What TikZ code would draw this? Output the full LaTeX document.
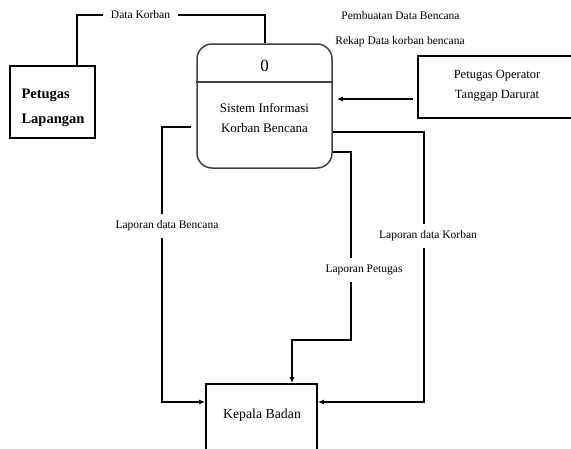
\documentclass[tikz,border=0pt]{standalone}
\usepackage{fontspec}
\setmainfont{Liberation Serif}
\newfontfamily\tms{Liberation Serif}
\usetikzlibrary{arrows.meta}
\tikzset{
  x=1pt, y=-1pt,
  every node/.style={font=\tms},
  entbox/.style={draw=black, line width=1.8pt, rectangle, inner sep=0pt},
  procbox/.style={draw=black!75, line width=1.5pt, rectangle, rounded corners=15pt, inner sep=0pt},
  flow/.style={draw=black, line width=1.5pt},
  arr/.style={flow, -{Latex[length=6pt,width=5pt]}},
  lbl/.style={fill=white, inner xsep=4pt, inner ysep=7pt, font=\tms\fontsize{11.5}{13}\selectfont},
  toplbl/.style={font=\tms\fontsize{11.5}{13}\selectfont},
}
\begin{document}
\begin{tikzpicture}
\useasboundingbox (0,0) rectangle (571,448);
\clip (0,0) rectangle (571,448);
% entities and process
\node[entbox, minimum width=85pt, minimum height=72pt] (pl) at (52.5,102) {};
\node[font=\tms\bfseries\fontsize{14.5}{25}\selectfont, align=left, anchor=west] (plt) at (18,107.5) {Petugas\\Lapangan};
\node[procbox, minimum width=135pt, minimum height=124pt] (p) at (264.5,106) {};
\draw[draw=black!75, line width=1.5pt] (p.west |- 0,82) -- (p.east |- 0,82);
\node[font=\tms\fontsize{17}{20}\selectfont] (pnum) at (264.5,66) {0};
\node[font=\tms\fontsize{13}{20}\selectfont, align=center] (pt) at (264.5,118) {Sistem Informasi\\Korban Bencana};
\node[entbox, minimum width=182pt, minimum height=62pt] (op) at (509,87) {};
\node[font=\tms\fontsize{12.5}{20}\selectfont, align=center] (opt) at (497,86) {Petugas Operator\\Tanggap Darurat};
\node[entbox, minimum width=111pt, minimum height=90pt] (kb) at (261.5,429) {};
\node[font=\tms\fontsize{13.8}{16}\selectfont] (kbt) at (262,415) {Kepala Badan};
% top labels
\node[toplbl] (t1) at (400.5,16) {Pembuatan Data Bencana};
\node[toplbl] (t2) at (400,42) {Rekap Data korban bencana};
% connectors
\coordinate (dk1) at (77,15);
\coordinate (dk2) at (265,15);
\draw[flow] (pl.north -| dk1) -- (dk1) -- (dk2) -- (p.north -| dk2);
\node[lbl, inner xsep=8pt] (l1) at (140.5,15) {Data Korban};
\coordinate (a1) at (413,99);
\draw[arr, shorten >=4pt] (a1) -- (p.east |- a1);
\coordinate (L1) at (162,127);
\coordinate (L2) at (162,402);
\draw[arr, shorten <=5pt] (p.west |- L1) -- (L1) -- (L2) -- (kb.west |- L2);
\coordinate (R1) at (424,132);
\coordinate (R2) at (424,402);
\draw[arr] (p.east |- R1) -- (R1) -- (R2) -- (kb.east |- R2);
\coordinate (M1) at (351,152);
\coordinate (M2) at (351,340);
\coordinate (M3) at (292,340);
\draw[arr] (p.east |- M1) -- (M1) -- (M2) -- (M3) -- (kb.north -| M3);
\node[lbl] (l2) at (167,226) {Laporan data Bencana};
\node[lbl] (l3) at (428,236) {Laporan data Korban};
\node[lbl] (l4) at (364,270) {Laporan Petugas};
\end{tikzpicture}
\end{document}
